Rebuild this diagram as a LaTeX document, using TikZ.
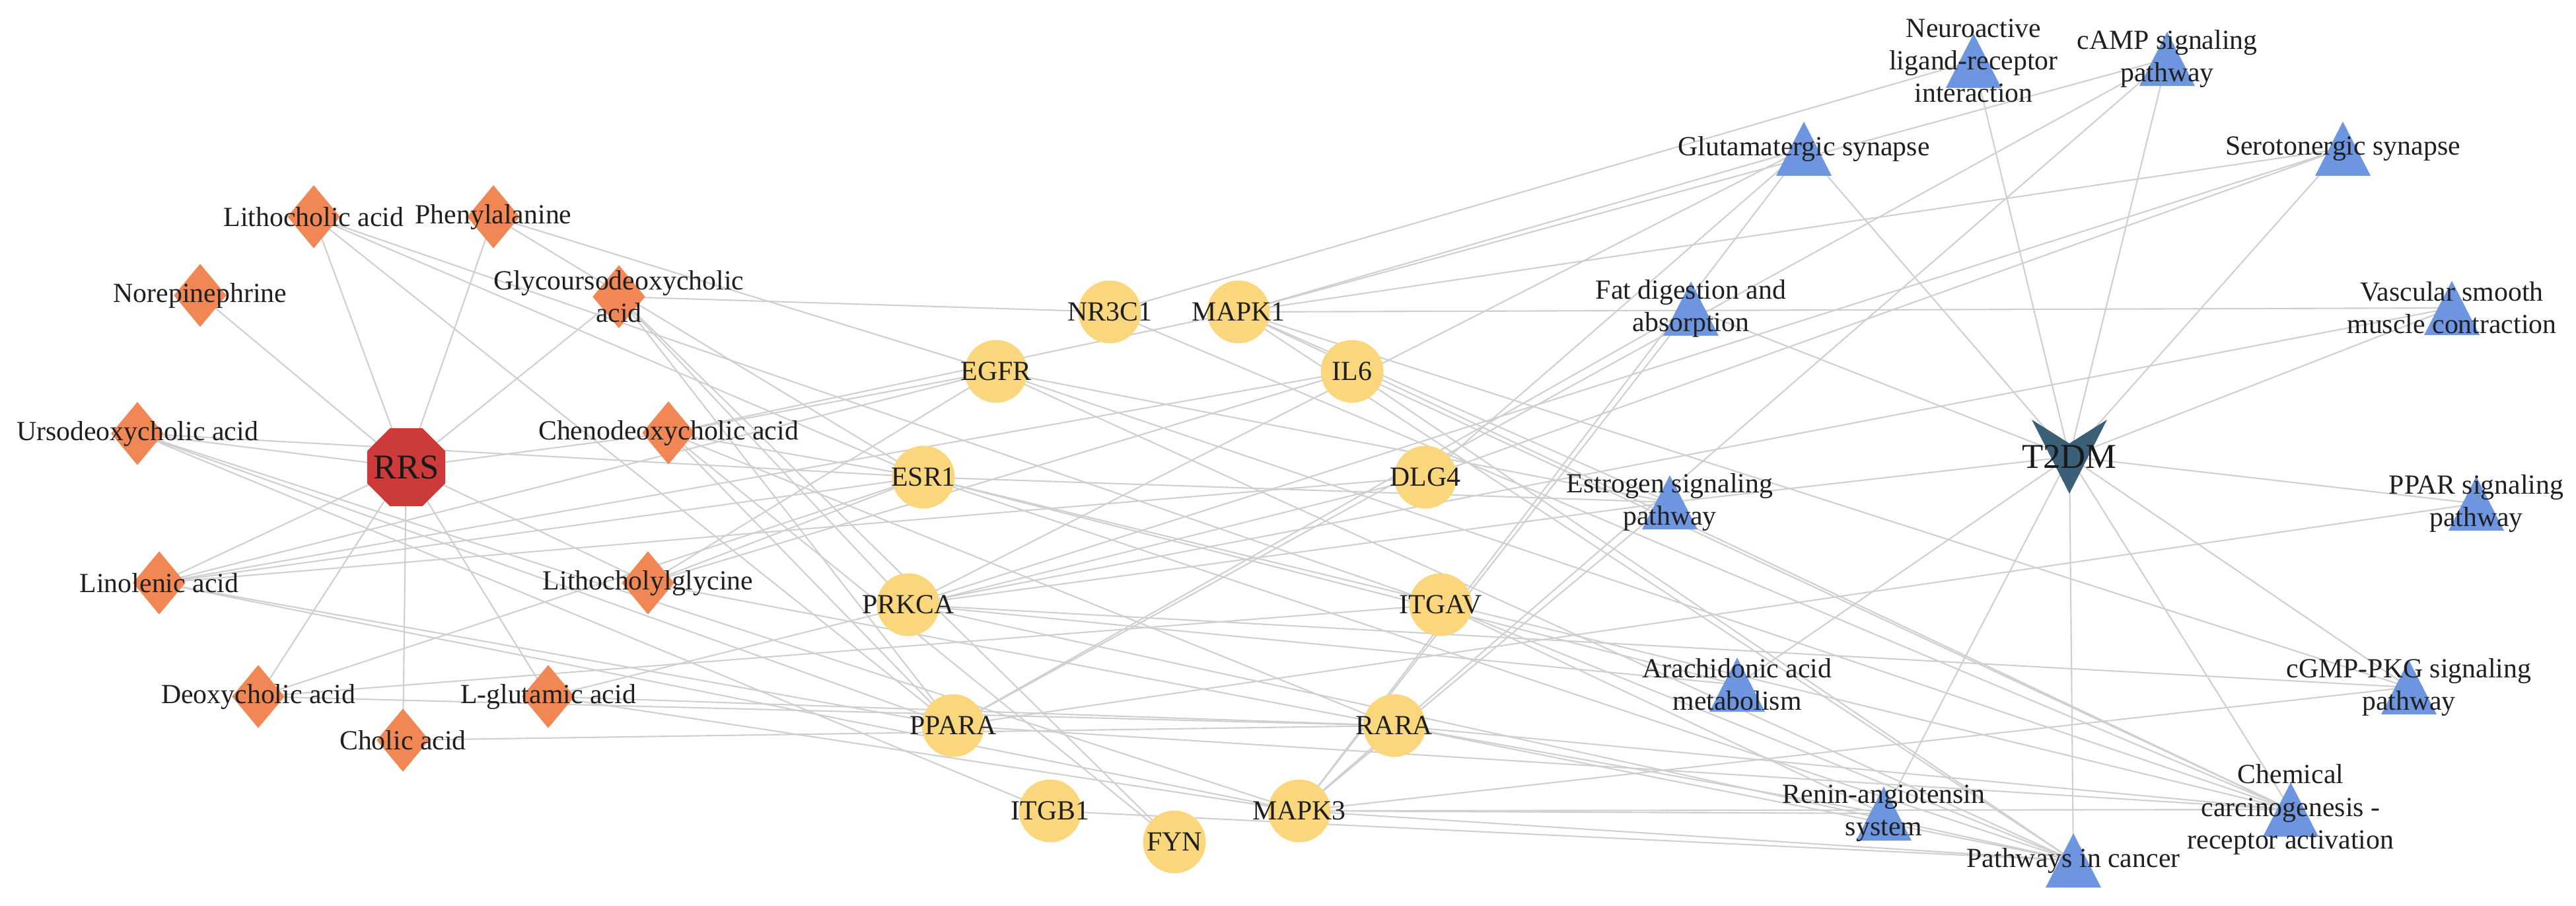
\documentclass[tikz,border=0pt]{standalone}
\usepackage{fontspec}
\setmainfont{Liberation Serif}
\usetikzlibrary{shapes.geometric}
\pgfdeclarelayer{bg}
\pgfsetlayers{bg,main}
\definecolor{metc}{HTML}{F08755}
\definecolor{rrsc}{HTML}{CC3A3A}
\definecolor{tgtc}{HTML}{FAD77D}
\definecolor{pwc}{HTML}{6E96E0}
\definecolor{t2c}{HTML}{3C5F78}
\definecolor{edgec}{HTML}{CFCFCF}
\tikzset{
  met/.style={diamond, fill=metc, inner sep=0pt, minimum width=0.80cm, minimum height=0.96cm, aspect=0.83},
  tgt/.style={circle, fill=tgtc, inner sep=0pt, minimum size=0.95cm},
  lbl/.style={font=\fontsize{11.9}{14}\selectfont, align=center, inner sep=0pt, text=black!88},
  big/.style={font=\fontsize{15}{17}\selectfont, inner sep=0pt, text=black!90},
  pw/.style={inner sep=0pt, minimum size=0.82cm},
  lnk/.style={draw=edgec, line width=0.6pt}
}
\newcommand{\tri}[1]{\fill[pwc] ([shift={(-0.42,-0.41)}]#1.center) -- ([shift={(0.42,-0.41)}]#1.center) -- ([shift={(0,0.41)}]#1.center) -- cycle;}
\begin{document}
\begin{tikzpicture}
\useasboundingbox (0,0) rectangle (39,-13.7);
% metabolites
\node[met] (lith) at (4.75,-3.28) {};
\node[met] (phe) at (7.47,-3.28) {};
\node[met] (nore) at (3.03,-4.47) {};
\node[met] (glyco) at (9.37,-4.49) {};
\node[met] (urso) at (2.08,-6.56) {};
\node[met] (cheno) at (10.12,-6.55) {};
\node[met] (lino) at (2.41,-8.82) {};
\node[met] (lcg) at (9.81,-8.82) {};
\node[met] (deoxy) at (3.91,-10.54) {};
\node[met] (glu) at (8.30,-10.54) {};
\node[met] (cholic) at (6.10,-11.20) {};
\node[regular polygon, regular polygon sides=8, fill=rrsc, inner sep=0pt, minimum size=1.28cm] (rrs) at (6.15,-7.07) {};
% targets
\node[tgt] (nr3c1) at (16.80,-4.72) {};
\node[tgt] (mapk1) at (18.75,-4.72) {};
\node[tgt] (egfr) at (15.08,-5.62) {};
\node[tgt] (il6) at (20.47,-5.62) {};
\node[tgt] (esr1) at (13.98,-7.22) {};
\node[tgt] (dlg4) at (21.58,-7.22) {};
\node[tgt] (prkca) at (13.75,-9.15) {};
\node[tgt] (itgav) at (21.81,-9.15) {};
\node[tgt] (ppara) at (14.43,-10.98) {};
\node[tgt] (rara) at (21.11,-10.98) {};
\node[tgt] (itgb1) at (15.90,-12.27) {};
\node[tgt] (fyn) at (17.78,-12.74) {};
\node[tgt] (mapk3) at (19.67,-12.27) {};
% pathways
\node[pw] (neuro) at (29.88,-0.92) {};
\node[pw] (camp) at (32.81,-0.89) {};
\node[pw] (glut) at (27.31,-2.25) {};
\node[pw] (sero) at (35.47,-2.25) {};
\node[pw] (fat) at (25.60,-4.67) {};
\node[pw] (vasc) at (37.12,-4.66) {};
\node[pw] (estr) at (25.28,-7.60) {};
\node[pw] (ppar) at (37.49,-7.62) {};
\node[pw] (arach) at (26.30,-10.36) {};
\node[pw] (cgmp) at (36.47,-10.40) {};
\node[pw] (renin) at (28.52,-12.31) {};
\node[pw] (chem) at (34.68,-12.25) {};
\node[pw] (cancer) at (31.39,-13.02) {};
\node[inner sep=0pt, minimum size=1.1cm] (t2dm) at (31.33,-6.91) {};
% edges
\begin{pgfonlayer}{bg}
\foreach \m in {lith,phe,nore,glyco,urso,cheno,lino,lcg,deoxy,glu,cholic}
  \draw[lnk] (rrs.center) -- (\m.center);
\foreach \p in {neuro,camp,glut,sero,fat,vasc,estr,ppar,arach,cgmp,renin,chem,cancer}
  \draw[lnk] (t2dm.center) -- (\p.center);
\foreach \a/\b in {lith/ppara,lith/esr1,lith/itgav,phe/egfr,phe/esr1,
  glyco/nr3c1,glyco/prkca,glyco/ppara,glyco/fyn,
  urso/esr1,urso/itgb1,urso/ppara,urso/mapk3,
  cheno/esr1,cheno/egfr,cheno/mapk1,cheno/ppara,cheno/rara,cheno/fyn,
  lino/mapk3,lino/ppara,lino/egfr,lino/esr1,lino/il6,lino/dlg4,
  lcg/egfr,lcg/esr1,lcg/rara,lcg/il6,
  deoxy/itgav,deoxy/rara,deoxy/esr1,
  glu/dlg4,glu/mapk3,glu/rara,cholic/rara}
  \draw[lnk] (\a.center) -- (\b.center);
\foreach \a/\b in {nr3c1/neuro,nr3c1/chem,
  mapk1/glut,mapk1/sero,mapk1/vasc,mapk1/camp,mapk1/cancer,mapk1/chem,mapk1/estr,mapk1/cgmp,
  mapk3/glut,mapk3/fat,mapk3/renin,mapk3/cancer,mapk3/chem,mapk3/estr,mapk3/cgmp,mapk3/camp,
  egfr/estr,egfr/cancer,egfr/chem,il6/cancer,il6/chem,
  esr1/estr,esr1/cancer,esr1/chem,esr1/arach,dlg4/glut,dlg4/sero,
  prkca/vasc,prkca/sero,prkca/glut,prkca/cancer,prkca/estr,prkca/cgmp,prkca/arach,
  itgav/cancer,itgav/renin,itgb1/cancer,
  ppara/ppar,ppara/camp,ppara/chem,ppara/fat,rara/cancer,rara/chem,rara/renin}
  \draw[lnk] (\a.center) -- (\b.center);
\end{pgfonlayer}
% triangles and T2DM shape
\foreach \p in {neuro,camp,glut,sero,fat,vasc,estr,ppar,arach,cgmp,renin,chem,cancer}
  {\tri{\p}}
\fill[t2c] ([shift={(-0.57,0.56)}]t2dm.center) -- ([shift={(0,0.20)}]t2dm.center) -- ([shift={(0.57,0.56)}]t2dm.center) -- ([shift={(0,-0.56)}]t2dm.center) -- cycle;
% labels
\node[lbl] (lithT) at (lith) {Lithocholic acid};
\node[lbl] (pheT) at (phe) {Phenylalanine};
\node[lbl] (noreT) at (nore) {Norepinephrine};
\node[lbl] (glycoT) at (glyco) {Glycoursodeoxycholic\\acid};
\node[lbl] (ursoT) at (urso) {Ursodeoxycholic acid};
\node[lbl] (chenoT) at (cheno) {Chenodeoxycholic acid};
\node[lbl] (linoT) at (lino) {Linolenic acid};
\node[lbl] (lcgT) at (lcg) {Lithocholylglycine};
\node[lbl] (deoxyT) at (deoxy) {Deoxycholic acid};
\node[lbl] (gluT) at (glu) {L-glutamic acid};
\node[lbl] (cholicT) at (cholic) {Cholic acid};
\node[big] (rrsT) at (rrs) {RRS};
\node[lbl] at (nr3c1) {NR3C1};
\node[lbl] at (mapk1) {MAPK1};
\node[lbl] at (egfr) {EGFR};
\node[lbl] at (il6) {IL6};
\node[lbl] at (esr1) {ESR1};
\node[lbl] at (dlg4) {DLG4};
\node[lbl] at (prkca) {PRKCA};
\node[lbl] at (itgav) {ITGAV};
\node[lbl] at (ppara) {PPARA};
\node[lbl] at (rara) {RARA};
\node[lbl] at (itgb1) {ITGB1};
\node[lbl] at (fyn) {FYN};
\node[lbl] at (mapk3) {MAPK3};
\node[lbl] at (neuro) {Neuroactive\\ligand-receptor\\interaction};
\node[lbl] at (camp) {cAMP signaling\\pathway};
\node[lbl] at (glut) {Glutamatergic synapse};
\node[lbl] at (sero) {Serotonergic synapse};
\node[lbl] at (fat) {Fat digestion and\\absorption};
\node[lbl] at (vasc) {Vascular smooth\\muscle contraction};
\node[lbl] at (estr) {Estrogen signaling\\pathway};
\node[lbl] at (ppar) {PPAR signaling\\pathway};
\node[lbl] at (arach) {Arachidonic acid\\metabolism};
\node[lbl] at (cgmp) {cGMP-PKG signaling\\pathway};
\node[lbl] at (renin) {Renin-angiotensin\\system};
\node[lbl] at (chem) {Chemical\\carcinogenesis -\\receptor activation};
\node[lbl] at (cancer) {Pathways in cancer};
\node[big] at (t2dm) {T2DM};
\end{tikzpicture}
\end{document}
